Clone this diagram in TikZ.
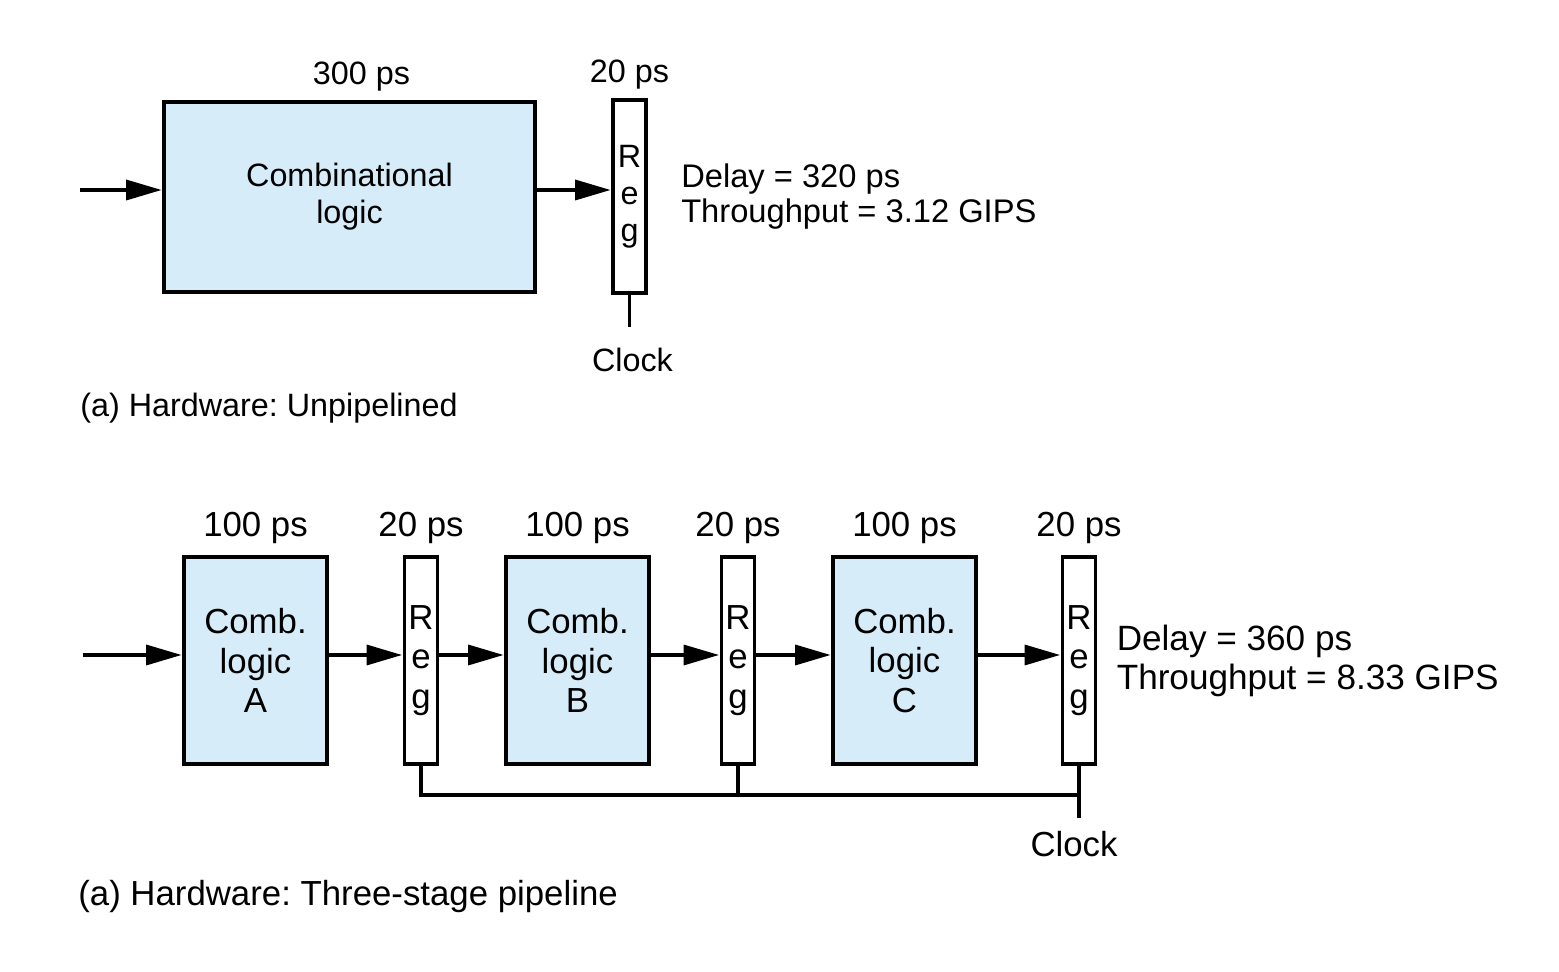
\documentclass[tikz,border=0pt]{standalone}
\usepackage{fontspec}
\setmainfont{Liberation Sans}
\usetikzlibrary{arrows.meta, positioning}
\definecolor{combBlue}{RGB}{214,237,249}
\frenchspacing
\tikzset{
  comb/.style={draw, line width=2.2pt, fill=combBlue, align=center, inner sep=0pt},
  regbox/.style={draw, line width=2.2pt, fill=white, align=center, inner sep=0pt, minimum width=0.66cm},
  timing/.style={inner sep=0pt},
  wire/.style={line width=2.8pt, -{Triangle[length=0.72cm, width=0.39cm]}},
  clk/.style={line width=2.2pt},
  caption/.style={anchor=west, inner sep=0pt},
}

\begin{document}
\begin{tikzpicture}[x=0.02cm, y=-0.02cm, every node/.style={font=\fontsize{18.4}{21}\selectfont}]
\useasboundingbox (0,0) rectangle (1559,972);

% (a) unpipelined
\node[comb, minimum width=7.42cm, minimum height=3.8cm] (comb) at (349.5,197) {Combinational\\logic};
\node[regbox, minimum height=3.86cm] (reg) at (629.5,196.5) {R\\e\\g};
\node[timing, above=0.17cm of comb, xshift=0.24cm] (combT) {300 ps};
\node[timing, above=0.17cm of reg] (regT) {20 ps};
\coordinate (in1) at (80,190);
\draw[wire] (in1) -- (in1 -| comb.west);
\draw[wire] (comb.east |- in1) -- (reg.west |- in1);
\draw[clk] (reg.south) -- ++(0,32) coordinate (clk1);
\node[timing, below=0.42cm of clk1, xshift=0.06cm] (clk1T) {Clock};
\node[timing, right=0.66cm of reg, align=left, font=\fontsize{18.6}{20}\selectfont] (delay1) {Delay = 320 ps\\Throughput = 3.12 GIPS};
\node[caption] (cap1) at (80,408) {(a) Hardware: Unpipelined};

% (b) three-stage pipeline
\begin{scope}[every node/.style={font=\fontsize{19.8}{22.5}\selectfont}]
\node[comb, minimum width=2.86cm, minimum height=4.14cm] (combA) at (255.5,660.5) {Comb.\\logic\\A};
\node[regbox, minimum height=4.14cm] (reg1) at (421,660.5) {R\\e\\g};
\node[comb, minimum width=2.86cm, minimum height=4.14cm] (combB) at (577.5,660.5) {Comb.\\logic\\B};
\node[regbox, minimum height=4.14cm] (reg2) at (738,660.5) {R\\e\\g};
\node[comb, minimum width=2.86cm, minimum height=4.14cm] (combC) at (904.5,660.5) {Comb.\\logic\\C};
\node[regbox, minimum height=4.14cm] (reg3) at (1079,660.5) {R\\e\\g};
\foreach \n/\t in {combA/100 ps, reg1/20 ps, combB/100 ps, reg2/20 ps, combC/100 ps, reg3/20 ps}
  \node[timing, above=0.22cm of \n] (\n T) {\t};
\coordinate (in2) at (83,655);
\draw[wire] (in2) -- (in2 -| combA.west);
\draw[wire] (combA.east |- in2) -- (reg1.west |- in2);
\draw[wire] (reg1.east |- in2) -- (combB.west |- in2);
\draw[wire] (combB.east |- in2) -- (reg2.west |- in2);
\draw[wire] (reg2.east |- in2) -- (combC.west |- in2);
\draw[wire] (combC.east |- in2) -- (reg3.west |- in2);
\coordinate (bus) at (1079,795);
\coordinate (clk2) at (1079,818);
\draw[clk] (reg1.south) |- (bus) -- (reg3.south);
\draw[clk] (reg2.south) -- (reg2.south |- bus);
\draw[clk] (bus) -- (clk2);
\node[timing, below=0.26cm of clk2, xshift=-0.1cm] (clk2T) {Clock};
\node[timing, right=0.38cm of reg3, align=left, font=\fontsize{20}{22.2}\selectfont] (delay2) {Delay = 360 ps\\Throughput = 8.33 GIPS};
\node[caption] (cap2) at (78,897) {(a) Hardware: Three-stage pipeline};
\end{scope}
\end{tikzpicture}
\end{document}
